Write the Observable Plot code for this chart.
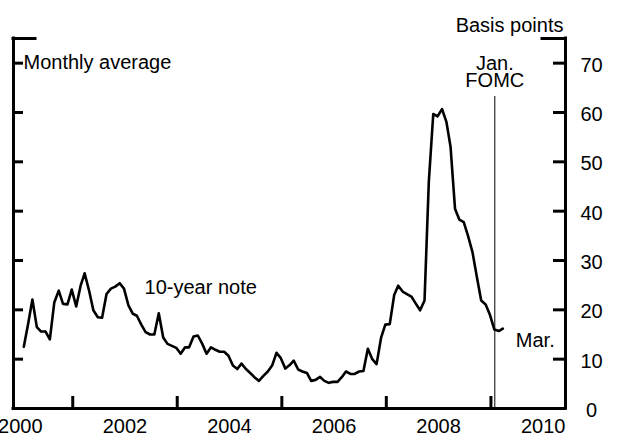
<!DOCTYPE html>
<html><head><meta charset="utf-8">
<script src="https://cdn.jsdelivr.net/npm/d3@7"></script>
<script src="https://cdn.jsdelivr.net/npm/@observablehq/plot@0.6"></script>
<style>body{margin:0;background:#fff;} #chart svg{display:block;}</style>
</head><body><div id="chart"></div>
<script>
// Monthly average, basis points, Jan 2000 .. Mar 2009
const startYear = 2000;
const spreadValues = [
  12.5, 17.3, 22.1, 16.5, 15.6, 15.6, 14.0, 21.5, 23.9, 21.2, 21.1, 24.1,
  20.7, 24.9, 27.4, 23.9, 19.9, 18.5, 18.4, 23.2, 24.3, 24.7, 25.4, 24.3,
  20.9, 19.2, 18.8, 17.0, 15.5, 15.0, 15.0, 19.3, 14.4, 13.1, 12.7, 12.3,
  11.1, 12.4, 12.4, 14.6, 14.8, 13.1, 11.1, 12.4, 11.9, 11.5, 11.5, 10.7,
  8.7, 8.0, 9.1, 8.0, 7.2, 6.3, 5.6, 6.6, 7.5, 8.7, 11.3, 10.2,
  8.1, 8.8, 9.7, 7.9, 7.5, 7.2, 5.6, 5.8, 6.4, 5.6, 5.2, 5.4,
  5.4, 6.4, 7.5, 7.0, 7.0, 7.5, 7.6, 12.1, 10.0, 9.0, 14.3, 17.0,
  17.1, 23.0, 24.9, 23.7, 23.2, 22.7, 21.3, 19.9, 21.9, 46.0, 59.7, 59.2,
  60.7, 58.1, 53.0, 40.5, 38.3, 37.8, 35.0, 31.7, 26.6, 21.9, 21.1, 19.0,
  16.0, 15.7, 16.2
];
const yTickValues = [10, 20, 30, 40, 50, 60, 70];
const yLabelValues = [0, 10, 20, 30, 40, 50, 60, 70];
const xTickYears = [2001, 2003, 2005, 2007, 2009];
const xLabelYears = [2000, 2002, 2004, 2006, 2008, 2010];
const xDomain = [new Date(Date.UTC(1999, 10, 14)), new Date(Date.UTC(2010, 5, 6))];
const yDomain = [0, 75];
const fomcDates = [new Date(Date.UTC(2009, 0, 28))];
const seriesLabels = [{date: new Date(Date.UTC(2002, 4, 18)), value: 24.5, text: "10-year note"}];

const data = spreadValues.map((v, i) => ({date: new Date(Date.UTC(startYear, i, 25)), value: v}));
const lastPoint = [data[data.length - 1]];
const yearDate = y => new Date(Date.UTC(y, 0, 1));

const W = 618, H = 442, mL = 13, mR = 53, mT = 38, mB = 34;
const fw = W - mL - mR, fh = H - mT - mB;
const fs = 20;

const plot = Plot.plot({
  width: W, height: H,
  marginLeft: mL, marginRight: mR, marginTop: mT, marginBottom: mB,
  x: {type: "utc", domain: xDomain, axis: null},
  y: {domain: yDomain, axis: null},
  style: {fontFamily: '"Liberation Sans", Arial, Helvetica, sans-serif', fontSize: "20px", background: "white", color: "black", overflow: "visible"},
  marks: [
    Plot.ruleX(fomcDates, {x: d => d, strokeWidth: 1, insetTop: 58}),
    Plot.line(data, {x: "date", y: "value", strokeWidth: 2.6, strokeLinejoin: "round"}),
    // frame lines
    Plot.ruleY([0], {strokeWidth: 3, strokeLinecap: "square"}),
    Plot.ruleX(xDomain, {x: d => d, strokeWidth: 3, strokeLinecap: "square"}),
    // top caps
    Plot.tickY([yDomain[1]], {y: d => d, insetRight: fw - 22, strokeWidth: 3, strokeLinecap: "square"}),
    Plot.tickY([yDomain[1]], {y: d => d, insetLeft: fw - 23, strokeWidth: 3, strokeLinecap: "square"}),
    // inward ticks
    Plot.tickY(yTickValues, {y: d => d, insetRight: fw - 10, strokeWidth: 3}),
    Plot.tickY(yTickValues, {y: d => d, insetLeft: fw - 12, strokeWidth: 3}),
    Plot.tickX(xTickYears, {x: yearDate, insetTop: fh - 12, strokeWidth: 3}),
    // labels
    Plot.text(yLabelValues, {y: d => d, text: d => String(d), frameAnchor: "right", dx: 26, dy: 2, textAnchor: "middle", fontSize: fs}),
    Plot.text(xLabelYears, {x: yearDate, text: d => String(d), frameAnchor: "bottom", dy: 24, textAnchor: "middle", fontSize: fs}),
    Plot.text(["Basis points"], {frameAnchor: "top-right", text: d => d, textAnchor: "end", dx: -2, dy: -21, fontSize: fs}),
    Plot.text(["Monthly average"], {y: 70, frameAnchor: "left", text: d => d, textAnchor: "start", dx: 10, dy: -1, fontSize: fs}),
    Plot.text(fomcDates, {x: d => d, frameAnchor: "top", text: () => "Jan.\nFOMC", lineHeight: 0.85, dy: 19, textAnchor: "middle", fontSize: fs}),
    Plot.text(seriesLabels, {x: "date", y: "value", text: "text", textAnchor: "start", fontSize: fs}),
    Plot.text(lastPoint, {x: "date", y: "value", text: () => "Mar.", textAnchor: "start", dx: 13, dy: 12, fontSize: fs})
  ]
});
document.getElementById("chart").appendChild(plot);
</script>
</body></html>
